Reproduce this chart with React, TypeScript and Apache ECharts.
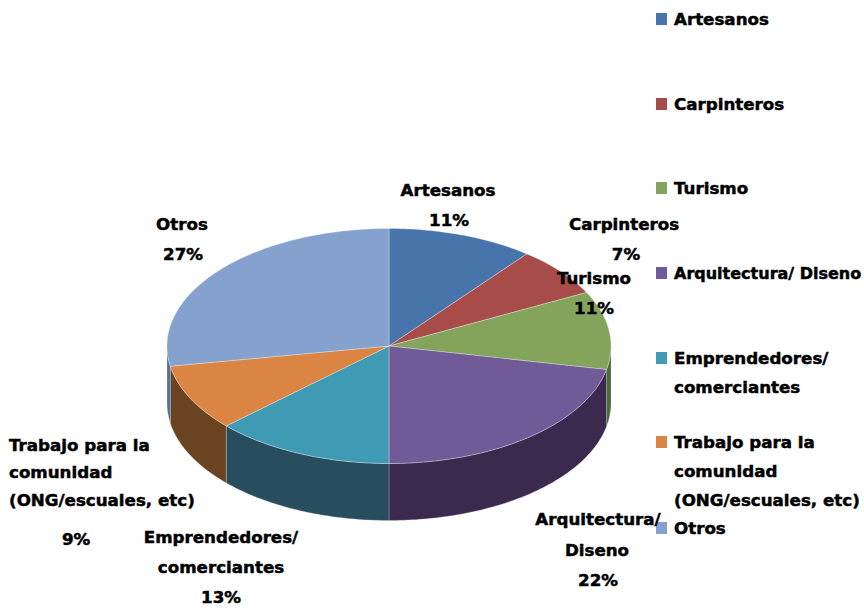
import React, { useEffect, useRef } from "react";
import * as echarts from "echarts";

const categories = [
  "Artesanos",
  "Carpinteros",
  "Turismo",
  "Arquitectura/ Diseno",
  "Emprendedores/ comerciantes",
  "Trabajo para la comunidad (ONG/escuales, etc)",
  "Otros",
];
const percentValues = [11, 7, 11, 22, 13, 9, 27];
const topColors = ["#4674AB", "#A84C4A", "#84A45C", "#705A97", "#3F9AB4", "#DB8544", "#85A1CE"];
const wallColors = ["#2F4E74", "#713332", "#4F6A30", "#3B2A4E", "#274D5E", "#6A4420", "#56709A"];

// Legend rows: wrapped text of each entry and the y of its first line.
const legendLines = [
  ["Artesanos"],
  ["Carpinteros"],
  ["Turismo"],
  ["Arquitectura/ Diseno"],
  ["Emprendedores/", "comerciantes"],
  ["Trabajo para la", "comunidad", "(ONG/escuales, etc)"],
  ["Otros"],
];
const legendRowY = [19, 104, 188, 273, 358, 442, 528];
const legendLineGap = 29;

// Data labels: wrapped name, then the placement of every line (name lines + percentage).
const labelNames = [
  ["Artesanos"],
  ["Carpinteros"],
  ["Turismo"],
  ["Arquitectura/", "Diseno"],
  ["Emprendedores/", "comerciantes"],
  ["Trabajo para la", "comunidad", "(ONG/escuales, etc)"],
  ["Otros"],
];
const labelPlacement: [number, number, "center" | "left"][][] = [
  [[448, 190, "center"], [449, 220, "center"]],
  [[624, 224, "center"], [626, 254, "center"]],
  [[594, 278, "center"], [594, 308, "center"]],
  [[598, 519, "center"], [597, 550, "center"], [598, 580, "center"]],
  [[221, 537, "center"], [221, 567, "center"], [221, 597, "center"]],
  [[9, 445, "left"], [9, 472, "left"], [9, 500, "left"], [62, 539, "left"]],
  [[182, 224, "center"], [183, 254, "center"]],
];

// Projected pie geometry.
const CX = 389;
const CY = 346;
const RX = 222;
const RY = 117.5;
const DEPTH = 57;
// Angular shear (degrees) introduced by the 3D view of the disc.
const VIEW_SHEAR = 3.6;

const FONT_SIZE = 16.7;
// The longest legend row is set a little smaller so that it stays on the page.
const LONG_ROW_FONT_SIZE = 16;

const total = percentValues.reduce((a, b) => a + b, 0);

// Cumulative share in degrees, clockwise from twelve o'clock, as seen through the 3D view.
const sliceStart = (i: number) => {
  const deg = (percentValues.slice(0, i).reduce((a, b) => a + b, 0) / total) * 360;
  return deg - VIEW_SHEAR * Math.sin((deg * Math.PI) / 360);
};

const rim = (deg: number, drop = 0): number[] => {
  const r = (deg * Math.PI) / 180;
  return [CX + RX * Math.sin(r), CY - RY * Math.cos(r) + drop];
};

const arcPoints = (from: number, to: number, drop = 0): number[][] => {
  const n = Math.max(2, Math.ceil(Math.abs(to - from)));
  const pts: number[][] = [];
  for (let k = 0; k <= n; k++) pts.push(rim(from + ((to - from) * k) / n, drop));
  return pts;
};

// Side wall of a slice: only the part on the front half of the disc is visible.
const renderWall = (params: any) => {
  const i = params.dataIndex;
  const a = Math.max(sliceStart(i), 90);
  const b = Math.min(sliceStart(i + 1), 270);
  if (b <= a) return { type: "group", children: [] };
  return {
    type: "polygon",
    shape: { points: [...arcPoints(a, b), ...arcPoints(b, a, DEPTH)] },
    style: { fill: wallColors[i], stroke: "rgba(220,225,230,0.35)", lineWidth: 0.8 },
  };
};

// Top face of a slice.
const renderTop = (params: any) => {
  const i = params.dataIndex;
  return {
    type: "polygon",
    shape: { points: [[CX, CY], ...arcPoints(sliceStart(i), sliceStart(i + 1))] },
    style: { fill: topColors[i], stroke: "rgba(235,238,242,0.45)", lineWidth: 0.8 },
  };
};

const pieData = categories.map((name, i) => ({ name, value: percentValues[i] }));

const textEl = (text: string, x: number, y: number, align: string, size = FONT_SIZE) => ({
  type: "text",
  x,
  y,
  z: 10,
  style: {
    text,
    x: 0,
    y: 0,
    font: `bold ${size}px 'DejaVu Sans'`,
    fill: "#000",
    stroke: "#000",
    lineWidth: 0.5,
    textAlign: align,
    textVerticalAlign: "middle",
  },
});

const dataLabels = labelNames.flatMap((lines, i) =>
  [...lines, `${percentValues[i]}%`].map((line, k) => {
    const [x, y, align] = labelPlacement[i][k];
    return textEl(line, x, y, align);
  })
);

const legendItems = legendLines.flatMap((lines, i) => [
  {
    type: "rect",
    z: 9,
    shape: { x: 656, y: legendRowY[i] - 6, width: 11, height: 12 },
    style: { fill: topColors[i] },
  },
  ...lines.map((line, k) =>
    textEl(
      line,
      674,
      legendRowY[i] + k * legendLineGap,
      "left",
      line.length > 19 ? LONG_ROW_FONT_SIZE : FONT_SIZE
    )
  ),
]);

export default function App() {
  const ref = useRef<HTMLDivElement>(null);
  useEffect(() => {
    document.body.style.margin = "0";
    const chart = echarts.init(ref.current!, null, { renderer: "svg" });
    chart.setOption({
      animation: false,
      backgroundColor: "#fff",
      series: [
        { type: "custom", coordinateSystem: "none", z: 1, data: pieData, renderItem: renderWall, silent: true },
        { type: "custom", coordinateSystem: "none", z: 2, data: pieData, renderItem: renderTop, silent: true },
      ],
      graphic: { elements: [...dataLabels, ...legendItems] },
    });
    return () => chart.dispose();
  }, []);
  return <div ref={ref} style={{ width: 864, height: 608 }} />;
}
